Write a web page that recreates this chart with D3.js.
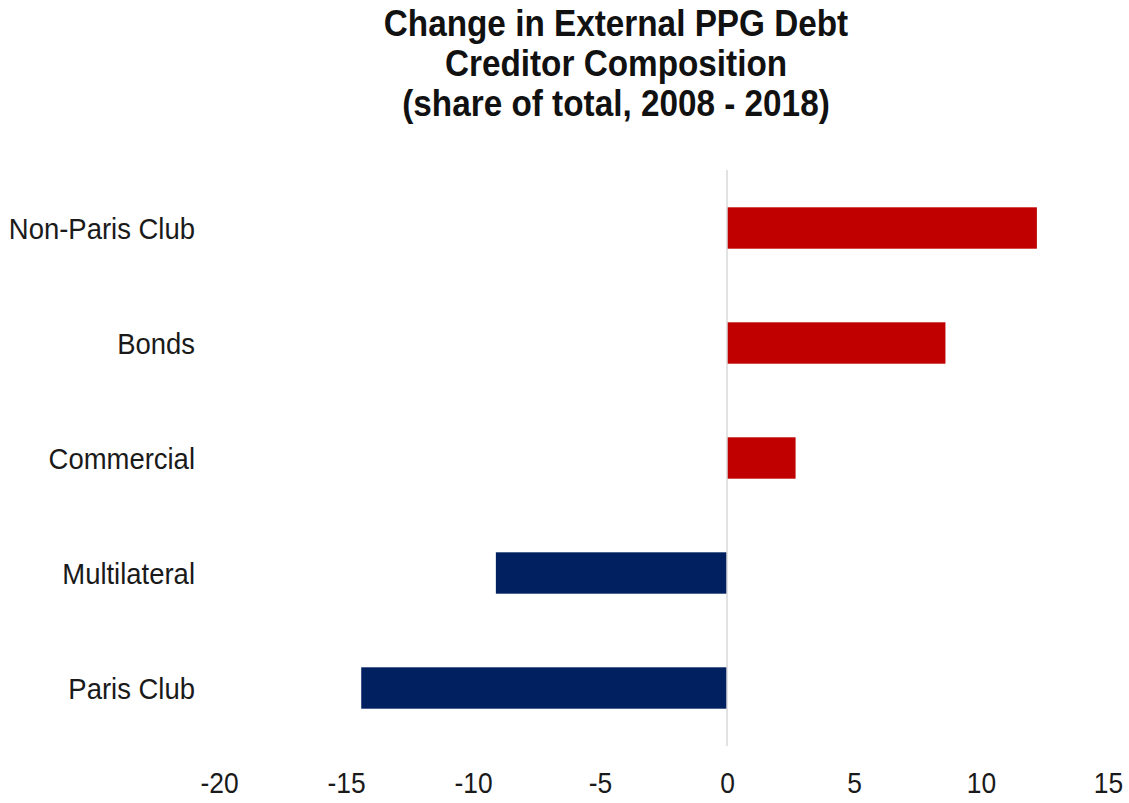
<!DOCTYPE html>
<html>
<head>
<meta charset="utf-8">
<script src="https://cdn.jsdelivr.net/npm/d3@7"></script>
<style>
  html, body { margin: 0; padding: 0; background: #fff; }
  svg { display: block; font-family: "Liberation Sans", Arial, sans-serif; }
</style>
</head>
<body>
<svg id="chart" width="1129" height="803"></svg>
<script>
// ---- data ----
const titleLines = ["Change in External PPG Debt", "Creditor Composition", "(share of total, 2008 - 2018)"];
const categories = ["Non-Paris Club", "Bonds", "Commercial", "Multilateral", "Paris Club"];
const values = [12.2, 8.6, 2.7, -9.1, -14.4];
const xTicks = [-20, -15, -10, -5, 0, 5, 10, 15];

// ---- layout ----
const svg = d3.select("#chart");
const x = d3.scaleLinear().domain([-20, 15]).range([219, 1108]);
const y = d3.scaleBand().domain(categories).range([170.5, 745.5]).paddingInner(0.64).paddingOuter(0.32);

function squeeze(sel, k) {
  sel.each(function () {
    const w = this.getComputedTextLength();
    d3.select(this).attr("textLength", w * k).attr("lengthAdjust", "spacingAndGlyphs");
  });
}

// title
const title = svg.append("g").attr("class", "title");
title.selectAll("text").data(titleLines).join("text")
  .attr("x", 616)
  .attr("y", (d, i) => 36 + i * 40)
  .attr("text-anchor", "middle")
  .attr("font-size", 36)
  .attr("font-weight", "bold")
  .attr("fill", "#111")
  .text(d => d)
  .call(squeeze, 0.925);

// bars
svg.append("g").selectAll("rect").data(categories).join("rect")
  .attr("x", (d, i) => x(Math.min(0, values[i])))
  .attr("width", (d, i) => Math.abs(x(values[i]) - x(0)))
  .attr("y", d => y(d))
  .attr("height", y.bandwidth())
  .attr("fill", (d, i) => values[i] >= 0 ? "#C00000" : "#002060");

// zero axis line
svg.append("line")
  .attr("x1", x(0)).attr("x2", x(0))
  .attr("y1", 170).attr("y2", 746)
  .attr("stroke", "#d9d9d9").attr("stroke-width", 1.5);

// category labels
svg.append("g").selectAll("text").data(categories).join("text")
  .attr("x", 195)
  .attr("y", d => y(d) + y.bandwidth() / 2)
  .attr("dy", "0.36em")
  .attr("text-anchor", "end")
  .attr("font-size", 30)
  .attr("fill", "#1a1a1a")
  .text(d => d)
  .call(squeeze, 0.915);

// x axis tick labels
const xAxis = d3.axisBottom(x).tickValues(xTicks).tickSize(0).tickPadding(0).tickFormat(d3.format("d"));
const gx = svg.append("g").attr("transform", "translate(0,772)").call(xAxis);
gx.select(".domain").remove();
gx.selectAll("text")
  .attr("font-size", 30)
  .attr("font-family", "Liberation Sans, Arial, sans-serif")
  .attr("fill", "#1a1a1a")
  .attr("dy", "0.71em")
  .text(d => d3.format("d")(d).replace("−", "-"))
  .call(squeeze, 0.88);
</script>
</body>
</html>
